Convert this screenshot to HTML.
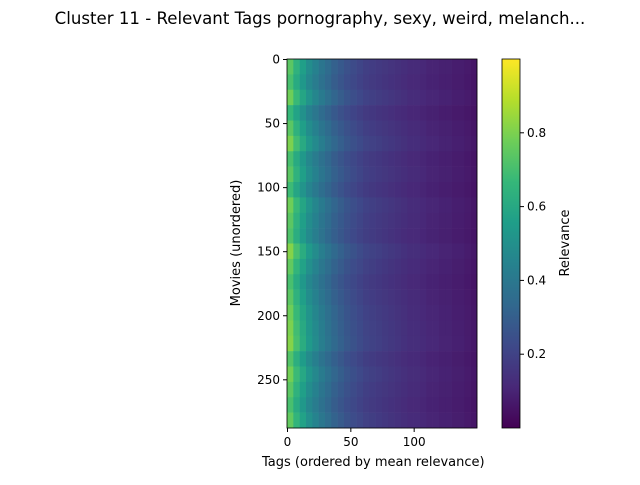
<!DOCTYPE html>
<html><head><meta charset="utf-8">
<style>
body{margin:0;background:#fff;font-family:"Liberation Sans","DejaVu Sans",sans-serif;}
svg text{font-family:"DejaVu Sans","Liberation Sans",sans-serif;fill:#000;}
</style></head>
<body>
<svg id="chart" width="640" height="480" viewBox="0 0 640 480">
<defs>
<linearGradient id="vir" x1="0" y1="1" x2="0" y2="0">
<stop offset="0" stop-color="#440154"/><stop offset="0.111" stop-color="#482878"/>
<stop offset="0.222" stop-color="#3e4989"/><stop offset="0.333" stop-color="#31688e"/>
<stop offset="0.444" stop-color="#26828e"/><stop offset="0.556" stop-color="#1f9e89"/>
<stop offset="0.667" stop-color="#35b779"/><stop offset="0.778" stop-color="#6ece58"/>
<stop offset="0.889" stop-color="#b5de2b"/><stop offset="1" stop-color="#fde725"/>
</linearGradient>
</defs>
<text x="320" y="24" font-size="16.6" text-anchor="middle">Cluster 11 - Relevant Tags pornography, sexy, weird, melanch...</text>
<g id="cells"></g>
<rect x="287" y="59" width="190" height="369" fill="none" stroke="#000" stroke-width="0.8"/>
<g id="axes"></g>
<rect x="502" y="59" width="18" height="369" fill="url(#vir)" stroke="#000" stroke-width="0.8"/>
<text x="262" y="466" font-size="13">Tags (ordered by mean relevance)</text>
<text transform="translate(240,243) rotate(-90)" font-size="13" text-anchor="middle">Movies (unordered)</text>
<text transform="translate(569,243) rotate(-90)" font-size="13" text-anchor="middle">Relevance</text>
</svg>
<script>
const colMeans=[0.74,0.64,0.56,0.49,0.44,0.39,0.35,0.31,0.28,0.25,0.23,0.21,0.19,0.18,0.17,0.16,0.15,0.14,0.13,0.12,0.12,0.11,0.10,0.10,0.09,0.09,0.08,0.08,0.07,0.06];
const rowFactors=[1.0,0.95,1.05,0.9,1.0,1.08,0.95,1.0,0.92,1.05,1.0,0.97,1.1,1.02,0.95,1.0,1.05,1.08,1.1,0.98,1.06,1.0,0.95,1.02];
const xTicks=[0,50,100];
const yTicks=[0,50,100,150,200,250];
const cbTicks=[0.2,0.4,0.6,0.8];
const nCols=150,nRows=288,X0=287,X1=477,Y0=59,Y1=428;
const xs=v=>X0+v*(X1-X0)/nCols;
const ys=v=>Y0+v*(Y1-Y0)/nRows;
const cs=v=>428-v*369;
const stops=[[68,1,84],[72,40,120],[62,73,137],[49,104,142],[38,130,142],[31,158,137],[53,183,121],[110,206,88],[181,222,43],[253,231,37]];
function vir(t){t=Math.max(0,Math.min(1,t))*9;const i=Math.min(8,Math.floor(t)),f=t-i;const a=stops[i],b=stops[i+1];
return `rgb(${Math.round(a[0]+(b[0]-a[0])*f)},${Math.round(a[1]+(b[1]-a[1])*f)},${Math.round(a[2]+(b[2]-a[2])*f)})`;}
const NS="http://www.w3.org/2000/svg";
const cells=document.getElementById('cells');
const cw=nCols/colMeans.length,rh=nRows/rowFactors.length;
rowFactors.forEach((rf,r)=>{colMeans.forEach((cm,c)=>{
 const el=document.createElementNS(NS,'rect');
 el.setAttribute('x',xs(c*cw));el.setAttribute('y',ys(r*rh));
 el.setAttribute('width',xs((c+1)*cw)-xs(c*cw)+0.3);el.setAttribute('height',ys((r+1)*rh)-ys(r*rh)+0.3);
 el.setAttribute('fill',vir(cm*rf));
 
 
 cells.appendChild(el);});});
const ax=document.getElementById('axes');
function add(tag,attrs,txt){const e=document.createElementNS(NS,tag);for(const k in attrs)e.setAttribute(k,attrs[k]);if(txt!==undefined)e.textContent=txt;ax.appendChild(e);return e;}
xTicks.forEach(t=>{const x=xs(t)+0.5;
 add('line',{x1:x,x2:x,y1:Y1,y2:Y1+4,stroke:'#000'});
 const e=add('text',{x:x,y:Y1+18,'font-size':12,'text-anchor':'middle'},t);
 
 });
yTicks.forEach(t=>{const y=ys(t)+0.5;
 add('line',{x1:X0-4,x2:X0,y1:y,y2:y,stroke:'#000'});
 const e=add('text',{x:X0-7,y:y+4,'font-size':12,'text-anchor':'end'},t);
 
 });
cbTicks.forEach(t=>{const y=cs(t);
 add('line',{x1:520,x2:524,y1:y,y2:y,stroke:'#000'});
 const e=add('text',{x:527,y:y+4,'font-size':12},t.toFixed(1));
 
 });
</script>
</body></html>
